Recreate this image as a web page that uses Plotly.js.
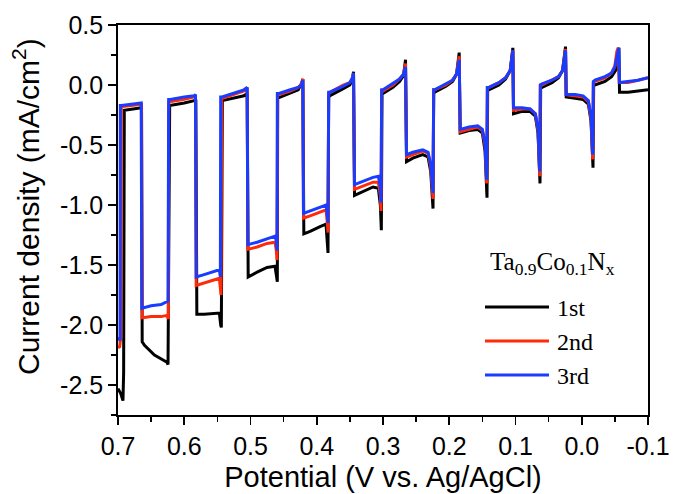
<!DOCTYPE html>
<html><head><meta charset="utf-8">
<script src="https://cdn.plot.ly/plotly-3.0.1.min.js"></script>
<style>html,body{margin:0;padding:0;background:#fff}</style>
</head><body><div id="chart" style="width:673px;height:494px"></div>
<script>
// Potential (V vs. Ag/AgCl) and current density (mA/cm2)
const x1st = [0.700,0.696,0.6925,0.6915,0.6905,0.680,0.666,0.6645,0.6635,0.660,0.645,0.626,0.6245,0.623,0.622,0.600,0.585,0.5825,0.581,0.570,0.555,0.547,0.545,0.544,0.5425,0.525,0.510,0.505,0.5035,0.490,0.475,0.463,0.4605,0.4595,0.459,0.440,0.428,0.423,0.421,0.4195,0.410,0.395,0.386,0.384,0.383,0.382,0.380,0.360,0.350,0.346,0.3445,0.343,0.330,0.315,0.307,0.304,0.3025,0.3015,0.300,0.285,0.275,0.269,0.266,0.2645,0.255,0.240,0.232,0.228,0.2245,0.2235,0.222,0.205,0.195,0.189,0.185,0.1835,0.170,0.157,0.150,0.146,0.143,0.142,0.140,0.125,0.115,0.108,0.104,0.103,0.090,0.078,0.070,0.066,0.063,0.062,0.060,0.045,0.035,0.029,0.0245,0.0235,0.010,-0.002,-0.010,-0.014,-0.017,-0.018,-0.020,-0.035,-0.045,-0.052,-0.056,-0.057,-0.070,-0.085,-0.100];
const y1st = [-2.53,-2.57,-2.63,-2.40,-0.21,-0.20,-0.19,-0.19,-2.14,-2.17,-2.25,-2.31,-2.33,-0.17,-0.17,-0.15,-0.13,-0.12,-1.91,-1.91,-1.90,-1.90,-2.00,-2.02,-0.13,-0.11,-0.09,-0.07,-1.60,-1.56,-1.52,-1.51,-1.64,-1.64,-0.11,-0.07,-0.04,0.01,0.05,-1.24,-1.22,-1.18,-1.16,-1.32,-1.40,-0.10,-0.09,-0.03,0.00,0.05,0.11,-0.92,-0.89,-0.85,-0.86,-1.00,-1.21,-0.08,-0.07,-0.02,0.03,0.08,0.21,-0.64,-0.61,-0.58,-0.60,-0.72,-1.03,-0.07,-0.06,-0.01,0.03,0.09,0.27,-0.40,-0.38,-0.37,-0.40,-0.55,-0.94,-0.04,-0.04,0.00,0.05,0.12,0.31,-0.24,-0.22,-0.22,-0.26,-0.40,-0.82,-0.03,-0.02,0.02,0.06,0.12,0.32,-0.10,-0.11,-0.12,-0.16,-0.30,-0.69,0.00,0.00,0.03,0.07,0.13,0.31,-0.06,-0.06,-0.05,-0.04];

const x2nd = [0.700,0.6975,0.6958,0.695,0.693,0.680,0.666,0.6645,0.6635,0.650,0.635,0.626,0.624,0.6235,0.622,0.600,0.585,0.583,0.582,0.570,0.555,0.547,0.5445,0.5435,0.542,0.525,0.510,0.505,0.504,0.490,0.475,0.463,0.461,0.460,0.459,0.457,0.440,0.428,0.423,0.421,0.420,0.410,0.395,0.386,0.384,0.383,0.382,0.380,0.360,0.350,0.346,0.3445,0.343,0.330,0.315,0.307,0.304,0.303,0.302,0.300,0.285,0.275,0.269,0.266,0.2645,0.255,0.240,0.232,0.228,0.2245,0.2235,0.222,0.205,0.195,0.189,0.185,0.1835,0.170,0.157,0.150,0.146,0.1435,0.1425,0.140,0.125,0.115,0.108,0.104,0.103,0.090,0.078,0.070,0.066,0.0635,0.0625,0.060,0.045,0.035,0.029,0.0245,0.0235,0.010,-0.002,-0.010,-0.014,-0.0165,-0.0175,-0.020,-0.035,-0.045,-0.050,-0.053,-0.055,-0.0565,-0.070,-0.085,-0.100];
const y2nd = [-2.19,-2.18,-2.10,-0.18,-0.18,-0.17,-0.16,-0.16,-1.94,-1.93,-1.93,-1.92,-1.95,-0.14,-0.14,-0.12,-0.10,-0.09,-1.67,-1.65,-1.62,-1.61,-1.75,-0.11,-0.11,-0.08,-0.05,-0.02,-1.37,-1.35,-1.32,-1.31,-1.38,-1.46,-0.08,-0.08,-0.05,-0.02,0.01,0.05,-1.11,-1.09,-1.06,-1.04,-1.15,-1.23,-0.07,-0.06,0.00,0.02,0.06,0.10,-0.87,-0.84,-0.81,-0.81,-0.92,-1.05,-0.05,-0.05,0.00,0.05,0.09,0.18,-0.60,-0.58,-0.55,-0.57,-0.68,-0.95,-0.04,-0.04,0.00,0.04,0.09,0.24,-0.39,-0.37,-0.35,-0.38,-0.50,-0.82,-0.02,-0.02,0.02,0.06,0.12,0.29,-0.21,-0.20,-0.20,-0.24,-0.38,-0.76,0.00,0.00,0.04,0.07,0.12,0.30,-0.08,-0.09,-0.10,-0.14,-0.28,-0.62,0.02,0.03,0.06,0.10,0.16,0.28,0.31,0.02,0.02,0.04,0.06];

const x3rd = [0.700,0.698,0.697,0.6965,0.695,0.680,0.666,0.665,0.664,0.650,0.635,0.626,0.6245,0.6235,0.621,0.600,0.585,0.583,0.582,0.570,0.555,0.547,0.5455,0.545,0.543,0.525,0.510,0.505,0.504,0.490,0.475,0.463,0.461,0.460,0.4595,0.457,0.440,0.428,0.423,0.421,0.420,0.410,0.395,0.386,0.384,0.383,0.382,0.380,0.360,0.350,0.346,0.3445,0.343,0.330,0.315,0.307,0.304,0.303,0.302,0.300,0.285,0.275,0.269,0.266,0.2645,0.255,0.240,0.232,0.228,0.2245,0.2235,0.222,0.205,0.195,0.189,0.185,0.1835,0.170,0.157,0.150,0.146,0.1435,0.1425,0.140,0.125,0.115,0.108,0.104,0.103,0.090,0.078,0.070,0.066,0.0635,0.0625,0.060,0.045,0.035,0.029,0.0245,0.0235,0.010,-0.002,-0.010,-0.014,-0.0165,-0.0175,-0.020,-0.035,-0.045,-0.050,-0.054,-0.056,-0.057,-0.070,-0.085,-0.100];
const y3rd = [-2.10,-2.12,-2.13,-0.17,-0.17,-0.16,-0.15,-0.15,-1.86,-1.84,-1.83,-1.80,-1.80,-0.12,-0.12,-0.10,-0.09,-0.08,-1.60,-1.58,-1.55,-1.54,-1.60,-0.10,-0.10,-0.07,-0.04,-0.02,-1.33,-1.31,-1.28,-1.26,-1.30,-1.38,-0.07,-0.07,-0.04,-0.02,0.00,0.04,-1.07,-1.05,-1.02,-1.00,-1.08,-1.15,-0.06,-0.06,-0.01,0.02,0.06,0.10,-0.83,-0.80,-0.77,-0.76,-0.85,-0.98,-0.04,-0.04,0.01,0.05,0.09,0.15,-0.58,-0.56,-0.54,-0.56,-0.66,-0.90,-0.04,-0.04,0.01,0.04,0.09,0.21,-0.37,-0.35,-0.34,-0.37,-0.48,-0.79,-0.02,-0.02,0.02,0.06,0.12,0.29,-0.19,-0.19,-0.20,-0.24,-0.36,-0.72,0.00,0.01,0.04,0.07,0.12,0.29,-0.08,-0.08,-0.09,-0.13,-0.26,-0.58,0.03,0.04,0.07,0.10,0.15,0.25,0.31,0.02,0.03,0.04,0.06];

const seriesNames = ['1st','2nd','3rd'];
const seriesColors = ['#000000','#ff2a0a','#1a3cff'];
const xTickVals = [0.7,0.6,0.5,0.4,0.3,0.2,0.1,0.0,-0.1];
const xTickText = ['0.7','0.6','0.5','0.4','0.3','0.2','0.1','0.0','-0.1'];
const yTickVals = [0.5,0.0,-0.5,-1.0,-1.5,-2.0,-2.5];
const yTickText = ['0.5','0.0','-0.5','-1.0','-1.5','-2.0','-2.5'];
const legendTitle = 'Ta<sub>0.9</sub>Co<sub>0.1</sub>N<sub>x</sub>';
const xTitle = 'Potential (V vs. Ag/AgCl)';
const yTitle = 'Current density (mA/cm<sup>2</sup>)';

const xs = [x1st,x2nd,x3rd], ys = [y1st,y2nd,y3rd];
const traces = xs.map((x,i)=>({x:x, y:ys[i], type:'scatter', mode:'lines', name:seriesNames[i],
  line:{color:seriesColors[i], width:3}, showlegend:false}));

const sans = 'Liberation Sans, Arial, sans-serif';
const serif = 'Liberation Serif, Times New Roman, serif';
const L = 118, R = 648, T = 25, B = 415;
const px = v => (v - L)/(R - L), py = v => (B - v)/(B - T);

const shapes = [], annotations = [];
const legY = [307,341,375];
seriesNames.forEach((n,i)=>{
  shapes.push({type:'line', xref:'paper', yref:'paper', x0:px(485), x1:px(549), y0:py(legY[i]), y1:py(legY[i]),
    line:{color:seriesColors[i], width:3}});
  annotations.push({xref:'paper', yref:'paper', x:px(555), y:py(legY[i]+1), xanchor:'left', yanchor:'middle',
    text:n, showarrow:false, font:{family:serif, size:24, color:'#000'}});
});
annotations.push({xref:'paper', yref:'paper', x:px(488), y:py(263), xanchor:'left', yanchor:'middle',
  text:legendTitle, showarrow:false, font:{family:serif, size:25, color:'#000'}});
// y axis title, placed where the reference has it
annotations.push({xref:'paper', yref:'paper', x:px(26), y:py(207), xanchor:'center', yanchor:'middle',
  textangle:-90, text:yTitle, showarrow:false, font:{family:sans, size:30, color:'#000'}});

const layout = {
  width:673, height:494, margin:{l:L, r:673-R, t:T, b:494-B},
  paper_bgcolor:'#fff', plot_bgcolor:'#fff', showlegend:false,
  font:{family:sans, color:'#000'},
  xaxis:{range:[0.7,-0.1], tickmode:'array', tickvals:xTickVals, ticktext:xTickText,
    ticks:'outside', ticklen:8, tickwidth:1.8, tickcolor:'#000',
    minor:{ticks:'outside', ticklen:5, tickwidth:1.5, tickcolor:'#000', dtick:0.05, tick0:0},
    showline:true, linecolor:'#000', linewidth:1.8, mirror:true, showgrid:false, zeroline:false,
    tickfont:{family:sans, size:25, color:'#000'},
    title:{text:xTitle, font:{family:sans, size:29, color:'#000'}, standoff:8}},
  yaxis:{range:[-2.75,0.5], tickmode:'array', tickvals:yTickVals, ticktext:yTickText,
    ticks:'outside', ticklen:8, tickwidth:1.8, tickcolor:'#000',
    minor:{ticks:'outside', ticklen:5, tickwidth:1.5, tickcolor:'#000', dtick:0.25, tick0:0},
    showline:true, linecolor:'#000', linewidth:1.8, mirror:true, showgrid:false, zeroline:false,
    tickfont:{family:sans, size:25, color:'#000'}},
  shapes:shapes, annotations:annotations
};
Plotly.newPlot('chart', traces, layout, {staticPlot:true, displayModeBar:false});
</script></body></html>
